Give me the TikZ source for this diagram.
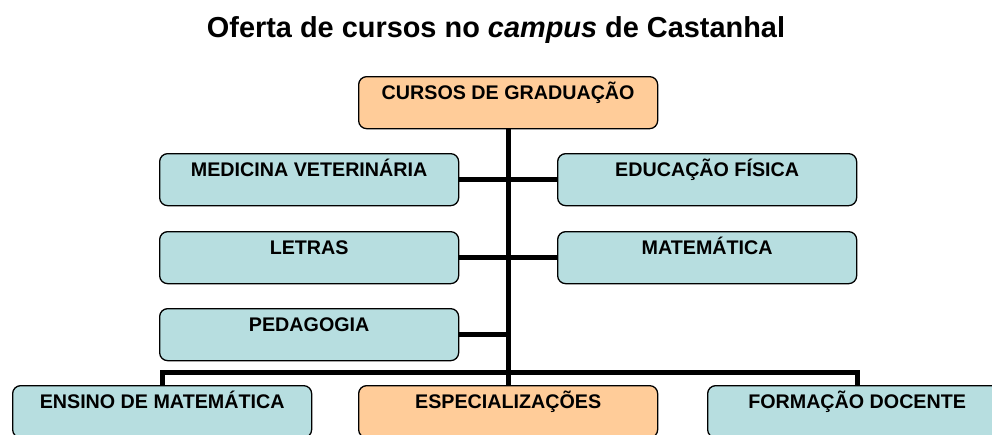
\documentclass[tikz,border=0pt]{standalone}
\usepackage{fontspec}
\setmainfont{Liberation Sans}
\definecolor{laranja}{RGB}{255,204,153}
\definecolor{azulclaro}{RGB}{183,222,224}
\tikzset{
  curso/.style={draw=black, line width=1.3pt, rounded corners=8pt, fill=azulclaro,
    anchor=north west, inner sep=0pt, minimum width=299pt,
    text height=23pt, text depth=29pt,
    font=\fontsize{19.7}{22}\selectfont\bfseries},
  destaque/.style={curso, fill=laranja},
  ligacao/.style={line width=5pt, line join=miter}
}
\begin{document}
\begin{tikzpicture}[x=1pt, y=-1pt]
    \useasboundingbox (0,0) rectangle (992,434);

    % Titulo
    \node (titulo) at (496,30) {\fontsize{28.9}{34}\selectfont\bfseries Oferta de cursos no \textit{campus} de Castanhal};

    % Caixas
    \node[destaque] (grad) at (358,76) {CURSOS DE GRADUAÇÃO};
    \node[curso] (med) at (159,153) {MEDICINA VETERINÁRIA};
    \node[curso] (edf) at (557,153) {EDUCAÇÃO FÍSICA};
    \node[curso] (let) at (159,231) {LETRAS};
    \node[curso] (mat) at (557,231) {MATEMÁTICA};
    \node[curso] (ped) at (159,308) {PEDAGOGIA};
    \node[curso] (ens) at (12,385) {ENSINO DE MATEMÁTICA};
    \node[destaque] (esp) at (358,385) {ESPECIALIZAÇÕES};
    \node[curso] (form) at (707,385) {FORMAÇÃO DOCENTE};

    % Ligacoes
    \coordinate (barra) at (grad.south |- 0,372);
    \draw[ligacao] (grad.south) -- (esp.north);
    \draw[ligacao] (med.east) -- (edf.west);
    \draw[ligacao] (let.east) -- (mat.west);
    \draw[ligacao] (ped.east) -- (ped.east -| grad.south);
    \draw[ligacao] (ens.north) |- (barra) -| (form.north);
\end{tikzpicture}
\end{document}
